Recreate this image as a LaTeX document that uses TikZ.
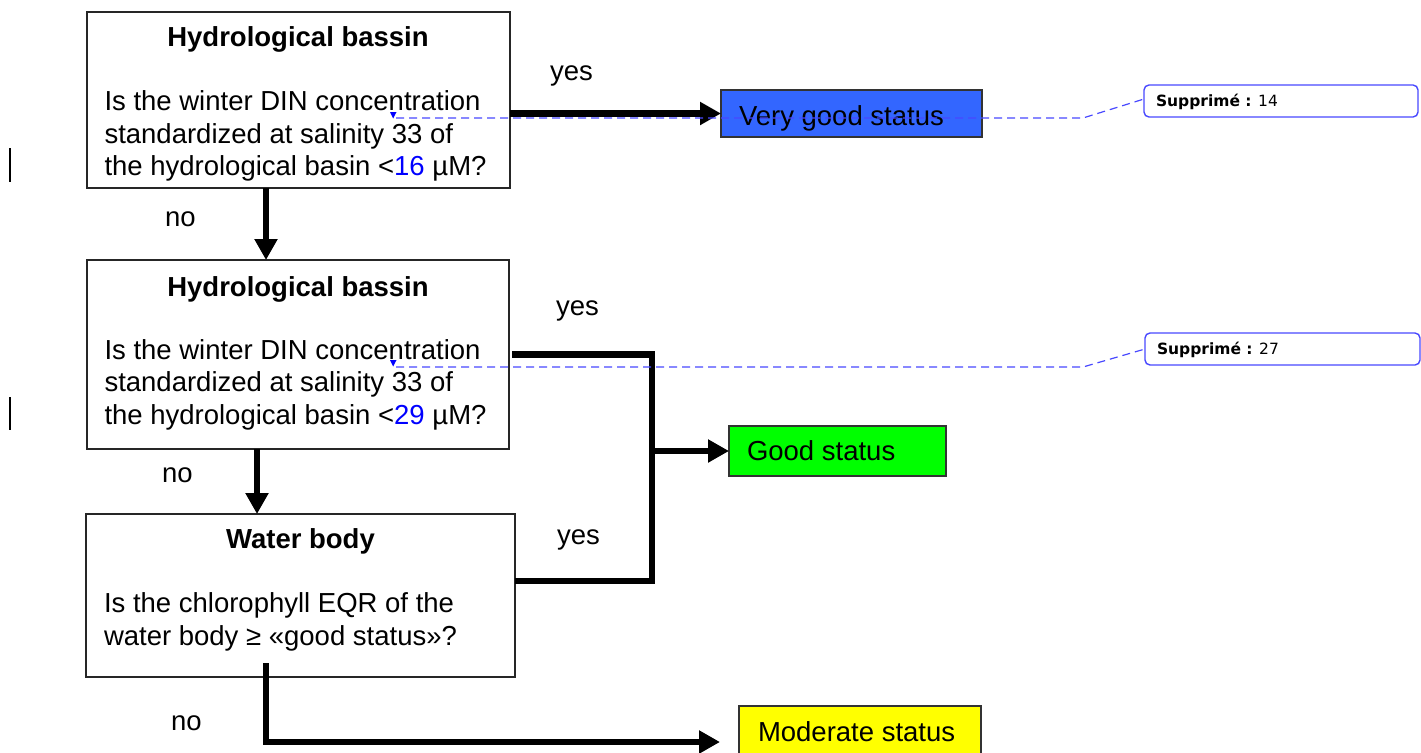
\documentclass[tikz,border=0pt]{standalone}
\usepackage{fontspec}
\setmainfont{Liberation Sans}
\newfontfamily\cmtfont{DejaVu Sans}
\usetikzlibrary{arrows.meta,calc}
\definecolor{vgblue}{RGB}{51,102,255}
\definecolor{goodgreen}{RGB}{0,255,0}
\definecolor{modyellow}{RGB}{255,255,0}
\definecolor{cmtblue}{RGB}{72,72,255}
\definecolor{numblue}{RGB}{0,0,255}
\tikzset{
  qbox/.style={draw=black!85, line width=1.6pt, rectangle, inner sep=0pt, outer sep=0pt, anchor=north west},
  statbox/.style={draw=black!80, line width=1.5pt, rectangle, inner sep=0pt, outer sep=0pt, anchor=north west},
  bigtxt/.style={font=\fontsize{27.5}{32.5}\selectfont, inner sep=0pt, outer sep=0pt, anchor=base west},
  ttl/.style={font=\fontsize{27.5}{32.5}\selectfont\bfseries, inner sep=0pt, outer sep=0pt, anchor=base},
  conn/.style={line width=6.8pt, line join=miter, -{Triangle[length=21pt,width=22pt]}},
  bracketline/.style={line width=6.8pt, line join=miter},
  cmtbox/.style={draw=cmtblue, line width=1.4pt, rounded corners=5pt, rectangle, inner sep=0pt, outer sep=0pt, anchor=north west},
  cmttxt/.style={font=\cmtfont\fontsize{15.5}{17}\selectfont, inner sep=0pt, outer sep=0pt, anchor=base west},
  cmtline/.style={draw=cmtblue, line width=1.2pt, dash pattern=on 8pt off 5pt},
  chbar/.style={line width=2pt}
}
\begin{document}
\begin{tikzpicture}[x=1pt,y=-1pt]
\useasboundingbox (0,0) rectangle (1421,752);

% question boxes
\node[qbox, minimum width=423pt, minimum height=176pt] (b1) at (87,12) {};
\node[qbox, minimum width=422pt, minimum height=189pt] (b2) at (87,260) {};
\node[qbox, minimum width=429pt, minimum height=163pt] (b3) at (86,514) {};

\node[ttl] (b1t) at (298,47) {Hydrological bassin};
\node[bigtxt] (b1a) at (104.5,110.5) {Is the winter DIN concentration};
\node[bigtxt] (b1b) at (104.5,143) {standardized at salinity 33 of};
\node[bigtxt] (b1c) at (104.5,175.5) {the hydrological basin \textless{}\textcolor{numblue}{16} µM?};

\node[ttl] (b2t) at (298,296) {Hydrological bassin};
\node[bigtxt] (b2a) at (104.5,359) {Is the winter DIN concentration};
\node[bigtxt] (b2b) at (104.5,391.5) {standardized at salinity 33 of};
\node[bigtxt] (b2c) at (104.5,424) {the hydrological basin \textless{}\textcolor{numblue}{29} µM?};

\node[ttl] (b3t) at (300.5,548) {Water body};
\node[bigtxt] (b3a) at (104,612) {Is the chlorophyll EQR of the};
\node[bigtxt] (b3b) at (104,645.5) {water body ≥ «good status»?};

% status boxes
\node[statbox, fill=vgblue, minimum width=261pt, minimum height=47pt] (vg) at (721,90) {};
\node[bigtxt] (vgt) at (739,125) {Very good status};
\node[statbox, fill=goodgreen, minimum width=217pt, minimum height=50pt] (good) at (729,426) {};
\node[bigtxt] (goodt) at (747,460.5) {Good status};
\node[statbox, fill=modyellow, minimum width=242pt, minimum height=52pt] (mod) at (739,706) {};
\node[bigtxt] (modt) at (758,741) {Moderate status};

% yes / no labels
\node[bigtxt] (y1) at (550,80.5) {yes};
\node[bigtxt] (y2) at (556,315.5) {yes};
\node[bigtxt] (y3) at (557,544.5) {yes};
\node[bigtxt] (n1) at (165,226.5) {no};
\node[bigtxt] (n2) at (162,482.5) {no};
\node[bigtxt] (n3) at (171,730.5) {no};

% connectors
\draw[conn] (b1.east |- vg.west) -- (vg.west);
\draw[conn] ($(b1.south west)+(179,0)$) -- ($(b2.north west)+(179,0)$);
\coordinate (gj) at (652,451);
\coordinate (b3y) at ($(b3.north east)+(0,67)$);
\draw[bracketline] ($(b2.east)+(3,0)$) -- (gj |- b2.east) -- (gj |- b3y) -- (b3y);
\draw[conn] (gj) -- (good.west);
\draw[conn] ($(b2.south west)+(170,0)$) -- ($(b3.north west)+(171,0)$);
\coordinate (mt) at (720,742);
\draw[conn] ($(b3.south west)+(180,-14)$) |- (mt);

% change bars
\draw[chbar] (10,148) -- (10,182);
\draw[chbar] (10,397) -- (10,430);

% comment balloons
\node[cmtbox, minimum width=274pt, minimum height=32pt] (c1) at (1144,85) {};
\node[cmttxt] (c1t) at (1156,106.5) {\textbf{Supprimé :} 14};
\node[cmtbox, minimum width=275pt, minimum height=32pt] (c2) at (1145,333) {};
\node[cmttxt] (c2t) at (1157,354.5) {\textbf{Supprimé :} 27};

\fill[numblue] (390,112) -- (396.5,112) -- (393.2,118.5) -- cycle;
\fill[numblue] (390,360) -- (396.5,360) -- (393.2,366.5) -- cycle;
\coordinate (d1) at (396,118);
\coordinate (k1) at (1083,118);
\coordinate (d2) at (396,367);
\coordinate (k2) at (1083,367);
\draw[cmtline] (d1) -- (k1) -- ($(c1.west)+(0,-2)$);
\draw[cmtline] (d2) -- (k2) -- (c2.west);
\end{tikzpicture}
\end{document}
